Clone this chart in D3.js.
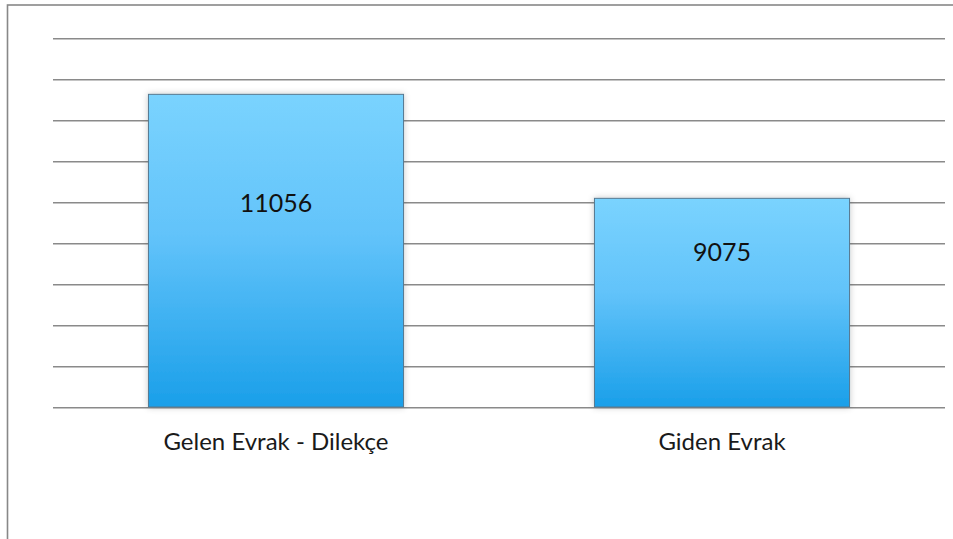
<!DOCTYPE html>
<html>
<head>
<meta charset="utf-8">
<script src="https://cdn.jsdelivr.net/npm/d3@7"></script>
<style>
html,body{margin:0;padding:0;background:#fff;}
svg{display:block;}
</style>
</head>
<body>
<svg id="chart" width="953" height="539"></svg>
<script>
const categories = ["Gelen Evrak - Dilekçe", "Giden Evrak"];
const values = [11056, 9075];
const valueLabels = ["11056", "9075"];
const yMin = 5100, yStep = 781, gridCount = 10;

const W = 953, H = 539;
const m = {left: 53, right: 8, top: 38, bottom: 132};
const svg = d3.select("#chart");

const defs = svg.append("defs");
const grad = defs.append("linearGradient").attr("id", "barGrad")
  .attr("x1", 0).attr("y1", 0).attr("x2", 0).attr("y2", 1);
grad.append("stop").attr("offset", "0%").attr("stop-color", "#7ad3fe");
grad.append("stop").attr("offset", "45%").attr("stop-color", "#62c3fa");
grad.append("stop").attr("offset", "100%").attr("stop-color", "#1a9fe9");
const sh = defs.append("filter").attr("id", "shadow").attr("x", "-10%").attr("y", "-10%").attr("width", "120%").attr("height", "120%");
sh.append("feDropShadow").attr("dx", 0).attr("dy", 0).attr("stdDeviation", 3)
  .attr("flood-color", "#000").attr("flood-opacity", 0.22);

// outer frame
svg.append("rect").attr("x", 7.5).attr("y", 5).attr("width", W + 10).attr("height", H + 10)
  .attr("fill", "none").attr("stroke", "#888").attr("stroke-width", 1.6);

const x = d3.scaleBand().domain(categories).range([m.left, W - m.right]).paddingInner(0.428).paddingOuter(0.214);
const gridVals = d3.range(gridCount).map(i => yMin + i * yStep);
const y = d3.scaleLinear().domain([yMin, yMin + (gridCount - 1) * yStep]).range([407, m.top]);

// gridlines
const g = svg.append("g");
g.selectAll("line.grid").data(gridVals).join("line").attr("class", "grid")
  .attr("x1", m.left).attr("x2", W - m.right)
  .attr("y1", d => Math.round(y(d)) + 0.5).attr("y2", d => Math.round(y(d)) + 0.5)
  .attr("stroke", "#8a8a8a").attr("stroke-width", 1);
g.selectAll("line.grid2").data(gridVals).join("line").attr("class", "grid2")
  .attr("x1", m.left).attr("x2", W - m.right)
  .attr("y1", d => Math.round(y(d)) + 1.5).attr("y2", d => Math.round(y(d)) + 1.5)
  .attr("stroke", "#c4c4c4").attr("stroke-width", 1);

// bars
const data = categories.map((c, i) => ({c, v: values[i], label: valueLabels[i]}));
svg.selectAll("rect.bar").data(data).join("rect").attr("class", "bar")
  .attr("x", d => x(d.c)).attr("width", x.bandwidth())
  .attr("y", d => y(d.v)).attr("height", d => y(yMin) - y(d.v))
  .attr("fill", "url(#barGrad)").attr("stroke", "#56788f").attr("stroke-width", 1)
  .attr("filter", "url(#shadow)");

// value labels
const labelFrac = [0.375, 0.30];
svg.selectAll("text.val").data(data).join("text").attr("class", "val")
  .attr("x", d => x(d.c) + x.bandwidth() / 2)
  .attr("y", (d, i) => y(d.v) + labelFrac[i] * (y(yMin) - y(d.v)))
  .attr("text-anchor", "middle")
  .attr("font-family", "Lato, 'Open Sans', sans-serif").attr("font-size", 25)
  .attr("fill", "#111").text(d => d.label);

// category labels
svg.selectAll("text.cat").data(categories).join("text").attr("class", "cat")
  .attr("x", d => x(d) + x.bandwidth() / 2).attr("y", 450)
  .attr("text-anchor", "middle")
  .attr("font-family", "Lato, 'Open Sans', sans-serif").attr("font-size", 24)
  .attr("fill", "#1a1a1a").text(d => d);
</script>
</body>
</html>
